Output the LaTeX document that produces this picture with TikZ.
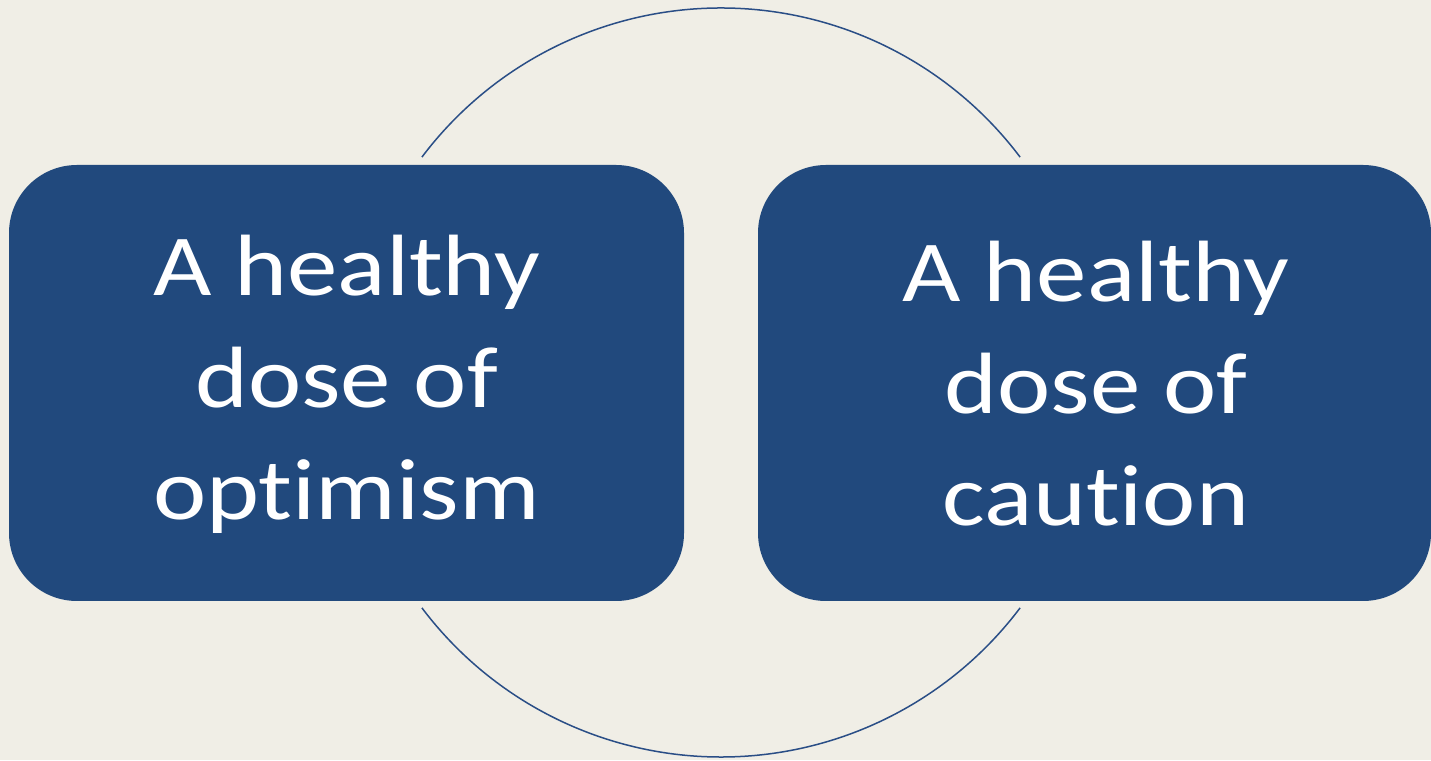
\documentclass[tikz,border=0pt]{standalone}
\usepackage{fontspec}
\setmainfont{Carlito}[FakeStretch=1.16, Ligatures=NoCommon]
\definecolor{bgc}{HTML}{F0EEE6}
\definecolor{boxc}{HTML}{21497D}
\definecolor{linec}{HTML}{2A4E86}
\begin{document}
\begin{tikzpicture}[x=1pt,y=1pt,
  dosebox/.style={fill=boxc, draw=none, rounded corners=68pt, minimum height=436pt, inner sep=0pt},
  dosetext/.style={text=white, align=center, inner sep=0pt, font=\fontsize{87}{112}\selectfont},
  ring/.style={linec, line width=1.5pt}]
\fill[bgc] (0,0) rectangle (1431,760);
\useasboundingbox (0,0) rectangle (1431,760);
\coordinate (c) at (721,377.5);
\draw[ring] ([shift={(143:374.5)}]c) arc[start angle=143, end angle=37, radius=374.5];
\draw[ring] ([shift={(217:374.5)}]c) arc[start angle=217, end angle=323, radius=374.5];
\node[dosebox, minimum width=675pt] (optbox) at (346.5,377) {};
\node[dosebox, minimum width=673pt] (caubox) at (1094.5,377) {};
\node[dosetext] (opt) at ([yshift=-1pt]optbox.center) {A healthy\\dose of\\optimism};
\node[dosetext] (cau) at ([xshift=1.5pt,yshift=-1pt]caubox.center) {A healthy\\dose of\\caution};
\end{tikzpicture}
\end{document}
